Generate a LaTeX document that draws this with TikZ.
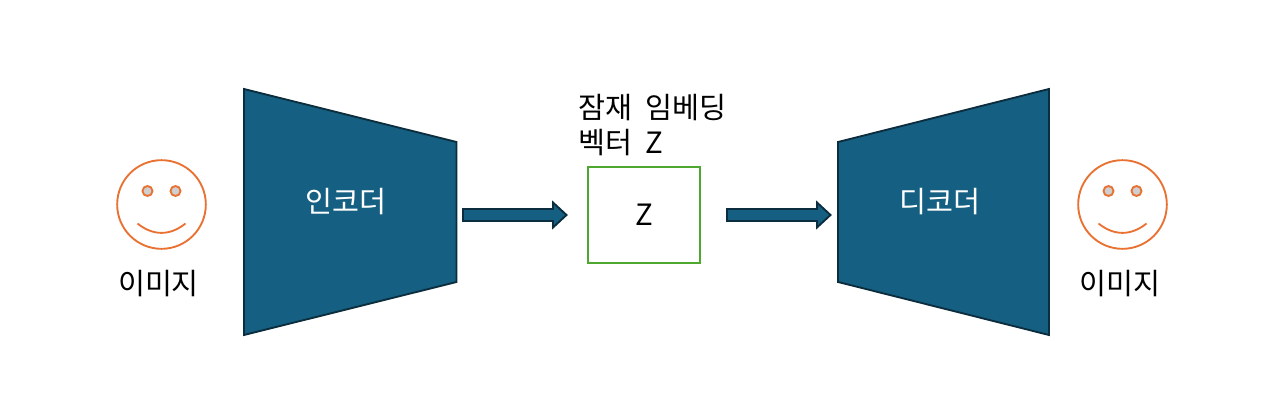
\documentclass[tikz,border=0pt]{standalone}
\usepackage{fontspec}
\setmainfont{Noto Sans CJK KR}
\definecolor{bluefill}{HTML}{156082}
\definecolor{blueline}{HTML}{0B2D3D}
\definecolor{orangeline}{HTML}{E97132}
\definecolor{greenline}{HTML}{4EA72E}
\definecolor{eyefill}{HTML}{CFCFCF}
\tikzset{
  x=0.75pt,y=-0.75pt,
  block/.style={draw=blueline,fill=bluefill,line width=1.4pt,line join=miter},
  blockarrow/.style={draw=blueline,fill=bluefill,line width=1.4pt,line join=miter},
  face/.style={circle,draw=orangeline,line width=1.4pt,minimum size=66.5pt,inner sep=0pt},
  eye/.style={circle,draw=orangeline,fill=eyefill,line width=1.4pt,minimum size=7.5pt,inner sep=0pt},
  smile/.style={draw=orangeline,line width=1.4pt},
  whitelabel/.style={text=white,font=\fontsize{22}{26}\selectfont,inner sep=0pt},
  blacklabel/.style={text=black,font=\fontsize{22}{26}\selectfont,inner sep=0pt},
  latent/.style={draw=greenline,line width=1.4pt,minimum width=84pt,minimum height=72pt,inner sep=0pt}
}
\begin{document}
\begin{tikzpicture}
\useasboundingbox (0,0) rectangle (1288,409);
% left face
\node[face] (faceL) at (161.5,204.5) {};
\node[eye] (eyeLa) at (147.5,191) {};
\node[eye] (eyeLb) at (175.5,191) {};
\coordinate (smileLa) at (137.5,223.5);
\coordinate (smileLb) at (185.5,223.5);
\draw[smile] (smileLa) .. controls (153,236) and (170,236) .. (smileLb);
\node[blacklabel] (imgL) at (158.5,284) {이미지};
% encoder
\coordinate (e1) at (244,89);
\coordinate (e2) at (456.5,142);
\coordinate (e3) at (456.5,282);
\coordinate (e4) at (244,335);
\draw[block] (e1) -- (e2) -- (e3) -- (e4) -- cycle;
\node[whitelabel] (enc) at (346,202) {인코더};
% arrow 1
\coordinate (a1) at (463,209);
\coordinate (a2) at (553,209);
\coordinate (a3) at (553,202.5);
\coordinate (a4) at (566.5,215);
\coordinate (a5) at (553,227.5);
\coordinate (a6) at (553,221);
\coordinate (a7) at (463,221);
\draw[blockarrow] (a1) -- (a2) -- (a3) -- (a4) -- (a5) -- (a6) -- (a7) -- cycle;
% latent
\node[latent] (z) at (644,215) {};
\node[blacklabel] (zt) at (644,215) {Z};
\node[blacklabel,anchor=west] (cap1) at (578,108) {잠재\hspace{0.22em} 임베딩};
\node[blacklabel,anchor=west] (cap2) at (578,143) {벡터\hspace{0.22em} Z};
% arrow 2
\coordinate (b1) at (727,209);
\coordinate (b2) at (817,209);
\coordinate (b3) at (817,202.5);
\coordinate (b4) at (830.5,215);
\coordinate (b5) at (817,227.5);
\coordinate (b6) at (817,221);
\coordinate (b7) at (727,221);
\draw[blockarrow] (b1) -- (b2) -- (b3) -- (b4) -- (b5) -- (b6) -- (b7) -- cycle;
% decoder
\coordinate (d1) at (1049,89);
\coordinate (d2) at (838,142);
\coordinate (d3) at (838,282);
\coordinate (d4) at (1049,335);
\draw[block] (d1) -- (d2) -- (d3) -- (d4) -- cycle;
\node[whitelabel] (dec) at (940,202) {디코더};
% right face
\node[face] (faceR) at (1122.5,204.5) {};
\node[eye] (eyeRa) at (1108.5,191) {};
\node[eye] (eyeRb) at (1136.5,191) {};
\coordinate (smileRa) at (1098.5,223.5);
\coordinate (smileRb) at (1146.5,223.5);
\draw[smile] (smileRa) .. controls (1114,236) and (1131,236) .. (smileRb);
\node[blacklabel] (imgR) at (1119.5,284) {이미지};
\end{tikzpicture}
\end{document}
